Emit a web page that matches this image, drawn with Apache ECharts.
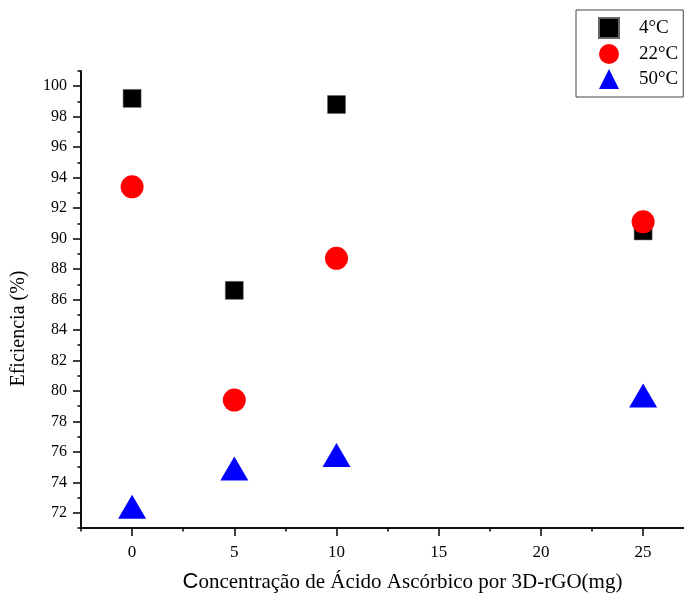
<!DOCTYPE html>
<html>
<head>
<meta charset="utf-8">
<script src="https://cdn.jsdelivr.net/npm/echarts@6/dist/echarts.min.js"></script>
<style>html,body{margin:0;padding:0;background:#fff}#c{width:684px;height:597px}</style>
</head>
<body>
<div id="c"></div>
<script>
const concentrations = [0, 5, 10, 25];
const eff4 = [99.2, 86.6, 98.8, 90.5];
const eff22 = [93.4, 79.4, 88.7, 91.1];
const eff50 = [72.4, 74.9, 75.8, 79.7];
const seriesNames = ['4°C', '22°C', '50°C'];
const xMajorTicks = [0, 5, 10, 15, 20, 25];
const xMinorTicks = [-2.5, 2.5, 7.5, 12.5, 17.5, 22.5];
const yMajorTicks = [72, 74, 76, 78, 80, 82, 84, 86, 88, 90, 92, 94, 96, 98, 100];
const yMinorTicks = [71, 73, 75, 77, 79, 81, 83, 85, 87, 89, 91, 93, 95, 97, 99, 101];

const pairs = arr => concentrations.map((c, i) => [c, arr[i]]);
const font = 'Liberation Serif';
const axisLine = {show: true, onZero: false, lineStyle: {color: '#000', width: 1.5}};

const chart = echarts.init(document.getElementById('c'));
chart.setOption({
  animation: false,
  grid: {left: 81, top: 71, right: 0, bottom: 69, containLabel: false, outerBoundsMode: 'none'},
  legend: {
    orient: 'vertical', left: 576, top: 10,
    padding: [7, 5, 8, 22], itemGap: 5,
    itemWidth: 20, itemHeight: 20,
    borderColor: '#444', borderWidth: 1,
    textStyle: {fontFamily: font, fontSize: 19, color: '#000', padding: [0, 0, 0, 15]},
    data: [
      {name: seriesNames[0], icon: 'rect'},
      {name: seriesNames[1], icon: 'circle'},
      {name: seriesNames[2], icon: 'triangle'}
    ]
  },
  xAxis: [{
    type: 'value', min: -2.5, max: 27,
    position: 'bottom',
    name: '{c|C}oncentração de Ácido Ascórbico por 3D-rGO(mg)',
    nameLocation: 'middle', nameGap: 43,
    nameTextStyle: {fontFamily: font, fontSize: 21, color: '#000', padding: [0, 0, 0, 40],
      rich: {c: {fontFamily: 'Liberation Sans', fontSize: 22, color: '#000'}}},
    axisLine: axisLine,
    axisTick: {show: true, inside: false, length: 8, lineStyle: {color: '#000', width: 1.5}, customValues: xMajorTicks},
    axisLabel: {fontFamily: font, fontSize: 17, color: '#000', margin: 16, customValues: xMajorTicks},
    splitLine: {show: false}
  }, {
    type: 'value', min: -2.5, max: 27, position: 'bottom', offset: 0,
    axisLine: axisLine,
    axisTick: {show: true, inside: false, length: 3.5, lineStyle: {color: '#000', width: 1.5}, customValues: xMinorTicks},
    axisLabel: {show: false},
    splitLine: {show: false}
  }],
  yAxis: [{
    type: 'value', min: 71, max: 101,
    position: 'left',
    name: 'Eficiencia (%)',
    nameLocation: 'middle', nameGap: 52, nameRotate: 90,
    nameTextStyle: {fontFamily: font, fontSize: 20, color: '#000', padding: [0, 58, 0, 0]},
    axisLine: axisLine,
    axisTick: {show: true, inside: false, length: 8, lineStyle: {color: '#000', width: 1.5}, customValues: yMajorTicks},
    axisLabel: {fontFamily: font, fontSize: 16, color: '#000', margin: 14, customValues: yMajorTicks},
    splitLine: {show: false}
  }, {
    type: 'value', min: 71, max: 101, position: 'left', offset: 0,
    axisLine: axisLine,
    axisTick: {show: true, inside: false, length: 3.5, lineStyle: {color: '#000', width: 1.5}, customValues: yMinorTicks},
    axisLabel: {show: false},
    splitLine: {show: false}
  }],
  series: [
    {name: seriesNames[0], type: 'scatter', symbol: 'rect', symbolSize: 18,
      itemStyle: {color: '#000', borderColor: '#666', borderWidth: 0.5, opacity: 1}, data: pairs(eff4)},
    {name: seriesNames[1], type: 'scatter', symbol: 'circle', symbolSize: 23,
      itemStyle: {color: '#ff0000', opacity: 1}, data: pairs(eff22)},
    {name: seriesNames[2], type: 'scatter', symbol: 'triangle', symbolSize: [28, 24],
      itemStyle: {color: '#0000ff', opacity: 1}, data: pairs(eff50)}
  ]
});
</script>
</body>
</html>
